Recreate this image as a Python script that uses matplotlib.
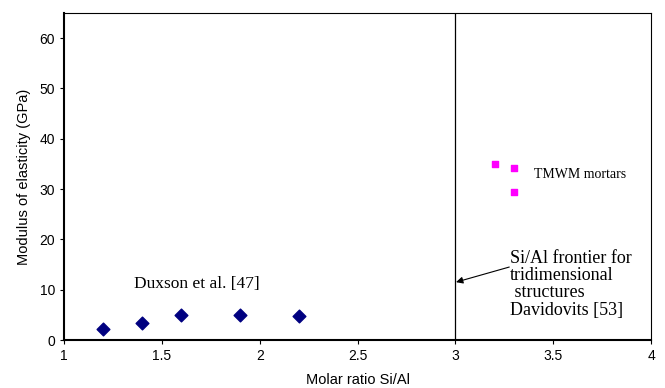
import matplotlib
matplotlib.use('Agg')
from matplotlib import pyplot as plt

# Duxson et al. data
duxson_x = [1.2, 1.4, 1.6, 1.9, 2.2]
duxson_y = [2.2, 3.4, 5.0, 5.0, 4.8]

# TMWM mortars
tmwm_x = [3.2, 3.3, 3.3]
tmwm_y = [34.9, 34.1, 29.5]

frontier = 3.0

xticks = [1, 1.5, 2, 2.5, 3, 3.5, 4]
xtick_labels = ['1', '1.5', '2', '2.5', '3', '3.5', '4']
yticks = [0, 10, 20, 30, 40, 50, 60]

plt.rcParams['font.family'] = ['Liberation Sans', 'DejaVu Sans']

fig = plt.figure(figsize=(6.65, 3.88), dpi=100)
ax = fig.add_axes([0.0962, 0.1237, 0.883, 0.843])

ax.scatter(duxson_x, duxson_y, marker='D', s=42, color='#000080', zorder=3)
ax.scatter(tmwm_x, tmwm_y, marker='s', s=22, color='#ff00ff', zorder=3)
ax.axvline(frontier, color='black', linewidth=0.9)

serif = ['Liberation Serif', 'DejaVu Serif']
ax.text(1.36, 10.3, 'Duxson et al. [47]', family=serif, fontsize=12.5)
ax.text(3.4, 32.9, 'TMWM mortars', family=serif, fontsize=10, va='center')
ax.text(3.28, 17.9, 'Si/Al frontier for\ntridimensional\n structures\nDavidovits [53]',
        family=serif, fontsize=13, va='top', ha='left', linespacing=1.02)
ax.annotate('', xy=(3.003, 11.5), xytext=(3.275, 14.5),
            arrowprops=dict(arrowstyle='-|>', color='black', lw=0.8,
                            mutation_scale=10, shrinkA=0, shrinkB=0))

ax.set_xlim(1, 4)
ax.set_ylim(0, 65)
ax.set_xticks(xticks, xtick_labels)
ax.set_yticks(yticks)
ax.tick_params(labelsize=10, length=3, width=0.8)
ax.spines['left'].set_linewidth(1.5)
ax.spines['bottom'].set_linewidth(1.5)
ax.spines['top'].set_linewidth(0.8)
ax.spines['right'].set_linewidth(0.8)
ax.set_xlabel('Molar ratio Si/Al', fontsize=10.5, labelpad=7)
ax.set_ylabel('Modulus of elasticity (GPa)', fontsize=10.5, labelpad=6)

plt.savefig('out.png', dpi=100)
